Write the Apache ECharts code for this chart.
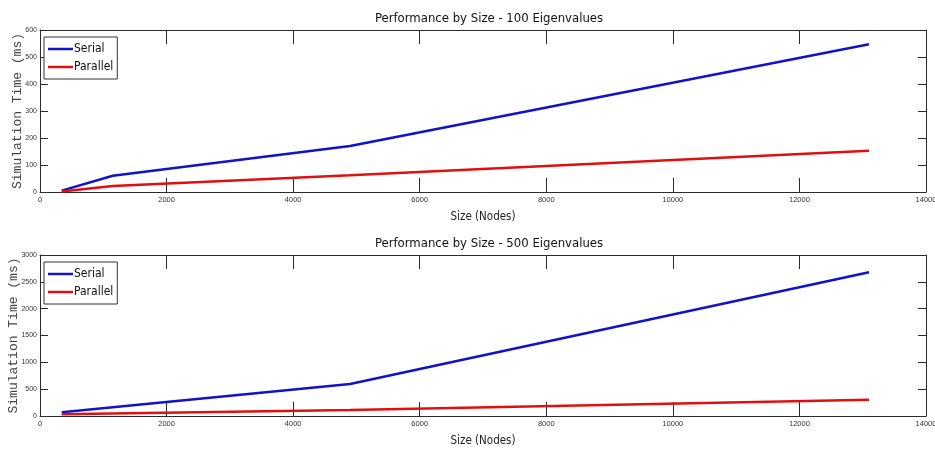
<!DOCTYPE html>
<html>
<head>
<meta charset="utf-8">
<script src="https://cdn.jsdelivr.net/npm/echarts@6/dist/echarts.min.js"></script>
<style>
  html, body { margin: 0; padding: 0; background: #fff; }
  #chart { width: 935px; height: 451px; }
</style>
</head>
<body>
<div id="chart"></div>
<script>
// problem sizes (nodes)
const sizes = [343, 1150, 4900, 13100]
// 100 eigenvalues
const serial100 = [5, 60, 170, 547]
const parallel100 = [2, 22, 62, 153]
// 500 eigenvalues
const serial500 = [69, 162, 596, 2678]
const parallel500 = [31, 48, 112, 304]

const titles = ['Performance by Size - 100 Eigenvalues', 'Performance by Size - 500 Eigenvalues']
const yMax = [600, 3000]
const yStep = [100, 500]

const frame = '#2b2b2b'
const labelFont = 'Liberation Sans'
const monoFont = 'Liberation Mono'
const titleFont = 'DejaVu Sans Condensed'

const grids = [
  { left: 40, right: 9, top: 30, height: 162, outerBoundsMode: 'none' },
  { left: 40, right: 9, top: 255, height: 161, outerBoundsMode: 'none' }
]
const yNameGap = [16, 20]

function pairs(ys) {
  return sizes.map((x, i) => [x, ys[i]])
}

const plain = v => String(v)

const xAxis = []
const yAxis = []
grids.forEach((g, i) => {
  // bottom x axis with labels
  xAxis.push({
    gridIndex: i, type: 'value', position: 'bottom', min: 0, max: 14000, interval: 2000,
    name: 'Size (Nodes)', nameLocation: 'middle', nameGap: 19,
    nameTextStyle: { fontFamily: titleFont, fontSize: 11.5, color: '#222' },
    axisLine: { onZero: false, lineStyle: { color: frame, width: 1 } },
    axisTick: { inside: true, length: 14, lineStyle: { color: frame } },
    axisLabel: { fontFamily: labelFont, fontSize: 7.5, color: '#333', margin: 4, formatter: plain },
    splitLine: { show: false }
  })
  // top x axis, frame only
  xAxis.push({
    gridIndex: i, type: 'value', position: 'top', min: 0, max: 14000, interval: 2000,
    axisLine: { onZero: false, lineStyle: { color: frame, width: 1 } },
    axisTick: { inside: true, length: 14, lineStyle: { color: frame } },
    axisLabel: { show: false },
    splitLine: { show: false }
  })
  yAxis.push({
    gridIndex: i, type: 'value', position: 'left', min: 0, max: yMax[i], interval: yStep[i],
    name: 'Simulation Time (ms)', nameLocation: 'middle', nameGap: yNameGap[i], nameMoveOverlap: false,
    nameTextStyle: { fontFamily: monoFont, fontSize: 13, color: '#444' },
    axisLine: { show: true, onZero: false, lineStyle: { color: frame, width: 1 } },
    axisTick: { show: true, inside: true, length: 8, lineStyle: { color: frame } },
    axisLabel: { fontFamily: labelFont, fontSize: 7, color: '#333', margin: 3, formatter: plain },
    splitLine: { show: false }
  })
  yAxis.push({
    gridIndex: i, type: 'value', position: 'right', min: 0, max: yMax[i], interval: yStep[i],
    axisLine: { show: true, onZero: false, lineStyle: { color: frame, width: 1 } },
    axisTick: { show: true, inside: true, length: 8, lineStyle: { color: frame } },
    axisLabel: { show: false },
    splitLine: { show: false }
  })
})

function lineSeries(name, data, color, i) {
  return {
    name: name, type: 'line', data: pairs(data),
    xAxisIndex: i * 2, yAxisIndex: i * 2,
    symbol: 'none', silent: true,
    lineStyle: { color: color, width: 2.5 },
    itemStyle: { color: color }
  }
}

const blue = '#1212c8'
const red = '#e01010'

const chart = echarts.init(document.getElementById('chart'), null, { renderer: 'canvas' })
chart.setOption({
  animation: false,
  backgroundColor: '#fff',
  title: titles.map((t, i) => ({
    text: t, left: 484, top: i === 0 ? 7 : 232, textAlign: 'center',
    textStyle: { fontFamily: titleFont, fontSize: 13, fontWeight: 'normal', color: '#111' }
  })),
  legend: grids.map((g, i) => ({
    data: ['Serial', 'Parallel'].map(n => n + (i === 0 ? '' : ' ')),
    orient: 'vertical', left: 44, top: g.top + 7,
    icon: 'rect', itemWidth: 25, itemHeight: 2.5, itemGap: 6,
    padding: [6, 4, 6, 4],
    borderColor: '#333', borderWidth: 1, backgroundColor: '#fff',
    textStyle: { fontFamily: titleFont, fontSize: 12, color: '#111', padding: [0, 0, 0, -4] },
    formatter: n => n.trim()
  })),
  grid: grids,
  xAxis: xAxis,
  yAxis: yAxis,
  series: [
    lineSeries('Serial', serial100, blue, 0),
    lineSeries('Parallel', parallel100, red, 0),
    lineSeries('Serial ', serial500, blue, 1),
    lineSeries('Parallel ', parallel500, red, 1)
  ]
})
</script>
</body>
</html>
